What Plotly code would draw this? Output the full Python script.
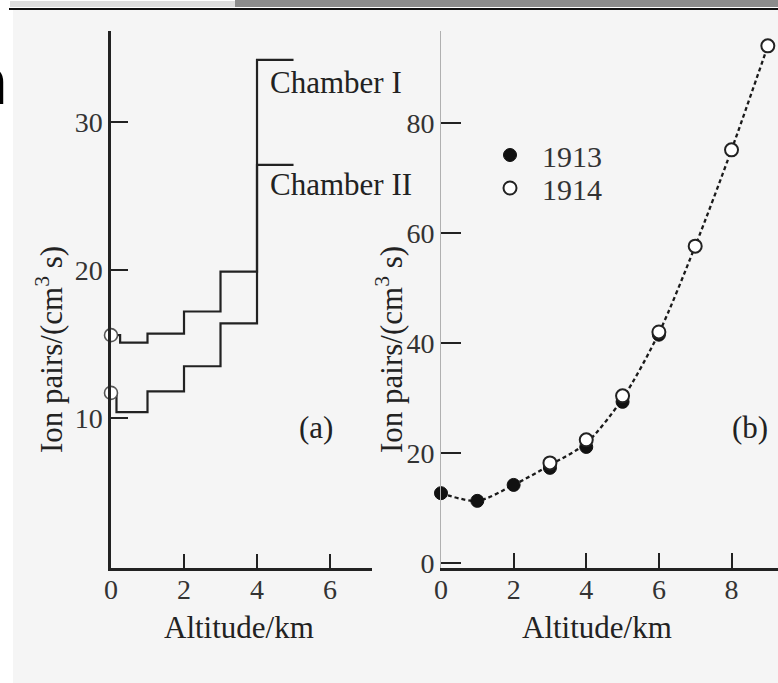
import plotly.graph_objects as go

# ---- data -------------------------------------------------------------
# (a) step profiles of the two ionisation chambers (altitude in km)
alt_chamber_1 = [0, 0.25, 1, 2, 3, 4, 5]
ions_chamber_1 = [15.6, 15.1, 15.7, 17.2, 19.9, 34.2, 34.2]
alt_chamber_2 = [0, 0.15, 1, 2, 3, 4, 5]
ions_chamber_2 = [11.7, 10.4, 11.8, 13.5, 16.4, 27.1, 27.1]

# (b) balloon flights
alt_1913 = [0, 1, 2, 3, 4, 5, 6]
ions_1913 = [12.7, 11.3, 14.2, 17.3, 21.1, 29.3, 41.5]
alt_1914 = [3, 4, 5, 6, 7, 8, 9]
ions_1914 = [18.2, 22.4, 30.4, 42.0, 57.6, 75.1, 94.0]
alt_curve = [0, 1, 2, 3, 4, 5, 6, 7, 8, 9]
ions_curve = [12.7, 11.3, 14.2, 17.8, 21.8, 29.9, 41.8, 57.6, 75.1, 94.0]

ticks_a_x = [0, 2, 4, 6]
ticks_a_y = [10, 20, 30]
ticks_b_x = [0, 2, 4, 6, 8]
ticks_b_y = [0, 20, 40, 60, 80]

# ---- page geometry (pixels) ------------------------------------------
W, H = 778, 683
SERIF = "Liberation Serif, Times New Roman, serif"
INK = "#222222"


def px(x):
    return x / W


def py(y):
    return 1 - y / H


fig = go.Figure()

# chamber step curves
for xs, ys in [(alt_chamber_1, ions_chamber_1), (alt_chamber_2, ions_chamber_2)]:
    fig.add_trace(go.Scatter(
        x=xs, y=ys, mode="lines", line=dict(shape="hv", color=INK, width=2.2),
        xaxis="x", yaxis="y", showlegend=False, hoverinfo="skip"))
# ground-level start markers
fig.add_trace(go.Scatter(
    x=[alt_chamber_1[0], alt_chamber_2[0]], y=[ions_chamber_1[0], ions_chamber_2[0]],
    mode="markers", xaxis="x", yaxis="y", showlegend=False, cliponaxis=False,
    marker=dict(size=13, color="white", line=dict(color="#555555", width=1.6))))

# dashed trend curve
fig.add_trace(go.Scatter(
    x=alt_curve, y=ions_curve, mode="lines", xaxis="x2", yaxis="y2",
    line=dict(shape="spline", smoothing=0.8, color="#1a1a1a", width=2.3, dash="4px,3px"),
    showlegend=False, hoverinfo="skip"))
fig.add_trace(go.Scatter(
    x=alt_1913, y=ions_1913, mode="markers", name="1913", xaxis="x2", yaxis="y2",
    legend="legend", cliponaxis=False,
    marker=dict(size=13, color="#111111", line=dict(color="#111111", width=1))))
fig.add_trace(go.Scatter(
    x=alt_1914, y=ions_1914, mode="markers", name="1914", xaxis="x2", yaxis="y2",
    legend="legend2", cliponaxis=False,
    marker=dict(size=13, color="white", line=dict(color="#222222", width=2))))

axis_common = dict(
    showgrid=False, zeroline=False, showline=True, ticks="inside", tickwidth=2,
    tickcolor=INK, tickfont=dict(family=SERIF, size=28, color="#333333"),
    automargin=False, fixedrange=True)

legend_common = dict(xanchor="left", yanchor="middle", bgcolor="rgba(0,0,0,0)",
                     itemwidth=54, font=dict(family=SERIF, size=30, color="#333333"))

fig.update_layout(
    template="none",
    width=W, height=H,
    margin=dict(l=0, r=0, t=0, b=0, pad=0),
    paper_bgcolor="#f5f5f5", plot_bgcolor="rgba(0,0,0,0)",
    xaxis=dict(axis_common, domain=[px(111), px(372)], range=[0, 7.15],
               tickvals=ticks_a_x, ticklen=14, linecolor=INK, linewidth=2.5,
               ticklabelstandoff=-5, anchor="y"),
    yaxis=dict(axis_common, domain=[py(568), py(31)], range=[-0.13, 36.15],
               tickvals=ticks_a_y, ticklen=17, linecolor=INK, linewidth=2.5,
               anchor="x"),
    xaxis2=dict(axis_common, domain=[px(441), 1], range=[0, 9.28],
                tickvals=ticks_b_x, ticklen=15, linecolor=INK, linewidth=2.5,
                ticklabelstandoff=-5, anchor="y2"),
    yaxis2=dict(axis_common, domain=[py(568), py(31)], range=[-0.9, 96.7],
                tickvals=ticks_b_y, ticklen=20, linecolor="#b0b0b0", linewidth=1,
                anchor="x2"),
    legend=dict(legend_common, x=px(478), y=py(155)),
    legend2=dict(legend_common, x=px(478), y=py(188)),
)

# page: white margin strip on the left, rule at the top and the band above it
fig.add_shape(type="rect", xref="paper", yref="paper", x0=0, x1=px(13),
              y0=-0.01, y1=1.01, fillcolor="white", line_width=0, layer="below")
fig.add_shape(type="rect", xref="paper", yref="paper", x0=px(13), x1=1,
              y0=py(10), y1=1.01, fillcolor="white", line_width=0, layer="below")
fig.add_shape(type="rect", xref="paper", yref="paper", x0=px(10), x1=px(235),
              y0=py(7), y1=py(1), fillcolor="#dedede", line_width=0, layer="below")
fig.add_shape(type="rect", xref="paper", yref="paper", x0=px(235), x1=1,
              y0=py(7), y1=1, fillcolor="#8c8c8c", line_width=0, layer="below")
fig.add_shape(type="line", xref="paper", yref="paper", x0=px(9), x1=1,
              y0=py(9), y1=py(9), line=dict(color="#111111", width=2))

ann_font = dict(family=SERIF, size=31, color=INK)
texts = [
    ("Chamber I", 268, 82, "left", 0),
    ("Chamber II", 268, 185, "left", 0),
    ("(a)", 316, 427, "center", 0),
    ("(b)", 750, 427, "center", 0),
    ("Altitude/km", 239, 627, "center", 0),
    ("Altitude/km", 597, 627, "center", 0),
    ("Ion pairs/(cm<sup>3</sup> s)", 49, 350, "center", -90),
    ("Ion pairs/(cm<sup>3</sup> s)", 389, 350, "center", -90),
]
for t, x, y, anchor, ang in texts:
    fig.add_annotation(text=t, xref="paper", yref="paper", x=px(x), y=py(y),
                       xanchor=anchor, yanchor="middle", showarrow=False,
                       textangle=ang, font=ann_font)

# fragment of a large heading letter at the left edge
fig.add_annotation(text="<b>n</b>", xref="paper", yref="paper", x=px(9), y=py(81),
                   xanchor="right", yanchor="middle", showarrow=False,
                   font=dict(family="Liberation Sans, Arial, sans-serif", size=66, color="#000000"))

fig.write_html("out.html")
